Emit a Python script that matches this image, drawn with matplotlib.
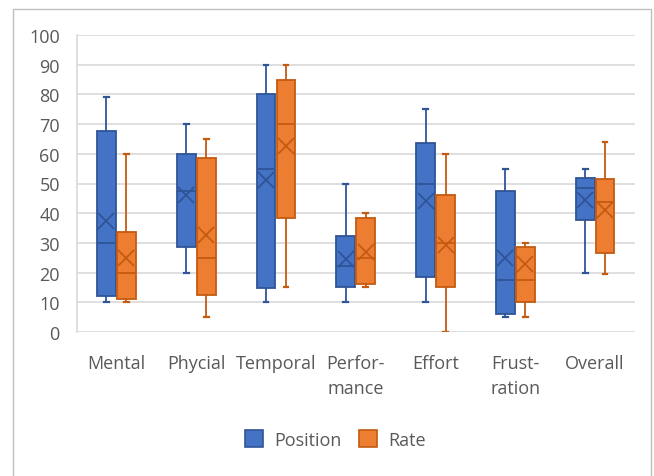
import matplotlib
matplotlib.use("Agg")
import matplotlib.pyplot as plt
from matplotlib.patches import Rectangle, Patch
import numpy as np

plt.rcParams['font.family'] = ['Open Sans', 'DejaVu Sans']

categories = ["Mental", "Phycial", "Temporal", "Perfor-\nmance", "Effort", "Frust-\nration", "Overall"]
series_names = ["Position", "Rate"]

pos_whislo = [10, 20, 10, 10, 10, 5, 20]
pos_q1 = [12.2, 28.5, 14.8, 15, 18.6, 6.1, 37.8]
pos_med = [30, 47.4, 55, 22.3, 50, 17.5, 48.4]
pos_q3 = [67.6, 60, 80, 32.4, 63.6, 47.4, 52]
pos_whishi = [79, 70, 90, 50, 75, 55, 55]
pos_mean = [37.3, 46.2, 51.2, 24.6, 44.2, 24.8, 44.5]

rate_whislo = [10, 5, 15, 15, 0, 5, 19.6]
rate_q1 = [11.1, 12.5, 38.5, 16, 15, 10, 26.6]
rate_med = [20, 25, 70, 25, 30, 17.5, 43.8]
rate_q3 = [33.8, 58.7, 85, 38.5, 46.2, 28.7, 51.6]
rate_whishi = [60, 65, 90, 40, 60, 30, 64]
rate_mean = [25, 32.8, 62.5, 27, 29.3, 22.8, 41]

yticks = [0, 10, 20, 30, 40, 50, 60, 70, 80, 90, 100]

fills = ["#4472C4", "#ED7D31"]
edges = ["#2F5597", "#C55A11"]
text_color = "#595959"
grid_color = "#D9D9D9"

fig = plt.figure(figsize=(6.54, 4.77), dpi=100)
ax = fig.add_axes([76.5/654, 1-333/477, (635-76.5)/654, (333-36)/477])

def stats(wl, q1, med, q3, wh, mean):
    return [dict(whislo=a, q1=b, med=c, q3=d, whishi=e, mean=f, fliers=[])
            for a, b, c, d, e, f in zip(wl, q1, med, q3, wh, mean)]

all_stats = [
    stats(pos_whislo, pos_q1, pos_med, pos_q3, pos_whishi, pos_mean),
    stats(rate_whislo, rate_q1, rate_med, rate_q3, rate_whishi, rate_mean),
]
offsets = [-0.125, 0.125]
x = np.arange(len(categories))
for i, st in enumerate(all_stats):
    ax.bxp(st, positions=x + offsets[i], widths=0.235, patch_artist=True,
           showmeans=True, showfliers=False, capwidths=0.06,
           boxprops=dict(facecolor=fills[i], edgecolor=edges[i], linewidth=1.3),
           medianprops=dict(color=edges[i], linewidth=1.3),
           whiskerprops=dict(color=edges[i], linewidth=1.3),
           capprops=dict(color=edges[i], linewidth=1.6),
           meanprops=dict(marker='x', markersize=11, markeredgecolor=edges[i],
                          markeredgewidth=1.3, markerfacecolor='none'),
           zorder=3)

ax.set_xlim(-0.5, len(categories) - 0.5)
ax.set_ylim(0, 100)
ax.set_yticks(yticks)
ax.set_xticks(x)
ax.set_xticklabels(categories, linespacing=1.5)
ax.tick_params(axis='both', length=0, labelsize=13, labelcolor=text_color)
ax.tick_params(axis='y', pad=12)
ax.tick_params(axis='x', pad=15.5)
ax.yaxis.grid(True, color=grid_color, linewidth=1.2)
ax.set_axisbelow(True)
for s in ['top', 'right', 'bottom']:
    ax.spines[s].set_visible(False)
ax.spines['left'].set_color(grid_color)
ax.spines['left'].set_linewidth(1.2)

handles = [Patch(facecolor=fills[i], edgecolor=edges[i], linewidth=1.2, label=series_names[i]) for i in range(2)]
fig.legend(handles=handles, loc='center', bbox_to_anchor=(0.513, 1-440.5/477), ncol=2,
           frameon=False, fontsize=13, labelcolor=text_color, handlelength=1.0,
           handleheight=1.0, handletextpad=0.6, columnspacing=1.0)

fig.add_artist(Rectangle((12.5/654, -0.1), (651-12.5)/654, 1.1-9.5/477,
                         transform=fig.transFigure, fill=False, edgecolor="#BFBFBF", linewidth=1.0))

fig.savefig("out.png", dpi=100)
